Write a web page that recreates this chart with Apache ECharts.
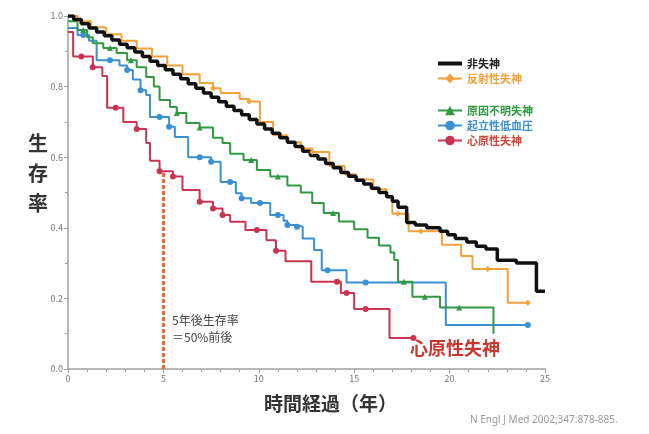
<!DOCTYPE html>
<html>
<head>
<meta charset="utf-8">
<script src="https://cdn.jsdelivr.net/npm/echarts@6/dist/echarts.min.js"></script>
<style>
  html, body { margin: 0; padding: 0; background: #fff; }
  #main { width: 649px; height: 434px; }
</style>
</head>
<body>
<div id="main"></div>
<script>
// [years, survival, censored]
var nonSyncope = [
  [0, 1.0, 0], [0.3, 0.99, 0], [0.7, 0.978, 0], [1.1, 0.966, 0], [1.5, 0.955, 0],
  [1.9, 0.944, 0], [2.3, 0.932, 0], [2.7, 0.92, 0], [3.1, 0.91, 0], [3.5, 0.898, 0],
  [3.9, 0.885, 0], [4.3, 0.872, 0], [4.7, 0.86, 0], [5.1, 0.848, 0], [5.5, 0.835, 0],
  [5.9, 0.822, 0], [6.3, 0.808, 0], [6.7, 0.795, 0], [7.1, 0.782, 0], [7.5, 0.77, 0],
  [7.9, 0.757, 0], [8.3, 0.744, 0], [8.7, 0.732, 0], [9.1, 0.72, 0], [9.5, 0.707, 0],
  [9.9, 0.694, 0], [10.3, 0.68, 0], [10.7, 0.668, 0], [11.1, 0.655, 0], [11.5, 0.642, 0],
  [11.9, 0.63, 0], [12.3, 0.617, 0], [12.7, 0.605, 0], [13.1, 0.595, 0], [13.5, 0.582, 0],
  [13.9, 0.57, 0], [14.3, 0.557, 0], [14.7, 0.546, 0], [15.1, 0.535, 0], [15.5, 0.524, 0],
  [15.9, 0.512, 0], [16.3, 0.5, 0], [16.7, 0.488, 0], [17.0, 0.475, 0], [17.3, 0.458, 0],
  [17.75, 0.415, 0], [18.2, 0.408, 0], [18.8, 0.4, 0], [19.5, 0.39, 0], [19.9, 0.38, 0],
  [20.3, 0.37, 0], [20.9, 0.36, 0], [21.4, 0.348, 0], [21.9, 0.34, 0], [22.5, 0.308, 0],
  [23.5, 0.3, 0], [24.55, 0.22, 0], [25.0, 0.22, 0]
];
var reflex = [
  [0, 1.0, 0], [0.5, 0.985, 0], [1.2, 0.968, 0], [2.0, 0.948, 0], [2.8, 0.93, 0],
  [3.6, 0.908, 0], [4.4, 0.885, 0], [5.2, 0.86, 0], [6.0, 0.835, 0], [6.9, 0.81, 0],
  [7.6, 0.795, 1], [8.0, 0.782, 0], [9.0, 0.765, 0], [9.5, 0.758, 1], [10.06, 0.7, 0],
  [10.75, 0.662, 0], [11.5, 0.642, 0], [12.2, 0.625, 0], [12.8, 0.615, 1], [13.7, 0.575, 0],
  [14.5, 0.552, 0], [15.1, 0.537, 0], [16.0, 0.509, 0], [16.7, 0.49, 0], [17.0, 0.44, 0],
  [17.3, 0.44, 1], [17.85, 0.39, 0], [18.5, 0.39, 1], [19.6, 0.352, 0], [20.6, 0.32, 0],
  [21.2, 0.283, 0], [22.0, 0.283, 1], [23.05, 0.188, 0], [24.1, 0.188, 1]
];
var unknown = [
  [0, 0.985, 0], [0.5, 0.96, 0], [0.8, 0.96, 1], [1.0, 0.94, 0], [1.3, 0.923, 0],
  [1.85, 0.909, 0], [2.2, 0.909, 1], [2.55, 0.895, 0], [3.1, 0.875, 0], [3.3, 0.875, 1],
  [3.6, 0.855, 0], [4.1, 0.827, 0], [4.5, 0.8, 0], [4.8, 0.762, 0], [5.35, 0.742, 0],
  [5.7, 0.725, 1], [6.2, 0.697, 0], [6.9, 0.684, 1], [7.6, 0.655, 0], [8.1, 0.64, 0],
  [8.5, 0.61, 0], [9.2, 0.592, 0], [9.6, 0.592, 1], [9.9, 0.564, 0], [10.6, 0.545, 0],
  [11.0, 0.545, 1], [11.5, 0.52, 0], [12.2, 0.5, 0], [12.8, 0.47, 0], [13.4, 0.442, 0],
  [13.9, 0.442, 1], [14.2, 0.418, 0], [15.0, 0.396, 0], [15.7, 0.372, 0], [16.3, 0.35, 0],
  [16.9, 0.33, 0], [17.1, 0.309, 0], [17.3, 0.247, 0], [17.6, 0.247, 1], [18.05, 0.205, 0],
  [18.7, 0.205, 1], [19.5, 0.174, 0], [20.5, 0.174, 1], [22.3, 0.1, 0]
];
var orthostatic = [
  [0, 0.966, 0], [0.5, 0.946, 0], [0.8, 0.946, 1], [1.1, 0.93, 0], [1.5, 0.875, 0],
  [2.2, 0.875, 1], [2.7, 0.86, 0], [3.1, 0.847, 1], [3.4, 0.82, 0], [3.8, 0.79, 1],
  [4.1, 0.776, 0], [4.3, 0.714, 0], [4.8, 0.714, 1], [5.3, 0.686, 1], [5.6, 0.657, 0],
  [6.3, 0.6, 0], [6.9, 0.6, 1], [7.5, 0.587, 1], [8.0, 0.53, 0], [8.5, 0.53, 1],
  [8.8, 0.498, 0], [9.1, 0.484, 1], [9.6, 0.47, 0], [10.06, 0.47, 1], [10.6, 0.436, 0],
  [11.0, 0.436, 1], [11.3, 0.42, 0], [11.5, 0.408, 1], [12.0, 0.403, 1], [12.3, 0.37, 0],
  [12.9, 0.337, 0], [13.3, 0.28, 0], [13.6, 0.28, 1], [14.6, 0.245, 0], [15.6, 0.245, 1],
  [19.8, 0.125, 0], [24.1, 0.125, 1]
];
var cardiac = [
  [0, 0.955, 0], [0.27, 0.885, 0], [0.7, 0.885, 1], [1.3, 0.855, 1], [1.8, 0.83, 0],
  [2.05, 0.74, 0], [2.5, 0.74, 1], [2.9, 0.7, 0], [3.6, 0.68, 1], [4.1, 0.64, 0],
  [4.3, 0.59, 0], [4.8, 0.56, 1], [5.5, 0.545, 1], [6.0, 0.507, 0], [6.9, 0.474, 1],
  [7.6, 0.455, 1], [8.1, 0.436, 1], [8.5, 0.417, 0], [9.3, 0.394, 0], [9.9, 0.394, 1],
  [10.4, 0.365, 0], [10.9, 0.335, 1], [11.4, 0.305, 0], [12.75, 0.247, 0], [14.1, 0.247, 1],
  [14.3, 0.215, 0], [14.6, 0.215, 1], [15.0, 0.17, 0], [15.6, 0.17, 1], [16.85, 0.088, 0],
  [18.1, 0.088, 1]
];

var names = ['非失神', '反射性失神', '原因不明失神', '起立性低血圧', '心原性失神'];
var colors = ['#111111', '#f3a13a', '#2f9a42', '#3a90d4', '#c93452'];
var textColors = ['#222222', '#f3a13a', '#2f9a42', '#3a90d4', '#d0463c'];

var chartDom = document.getElementById('main');
var myChart = echarts.init(chartDom);
var option;

function toItems(arr) {
    return arr.map(function (p) {
        return { value: [p[0], p[1]], symbol: p[2] ? undefined : 'none' };
    });
}

function km(i, data, symbol, width) {
    return {
        name: names[i],
        type: 'line',
        step: 'end',
        data: toItems(data),
        symbol: symbol,
        symbolSize: 6,
        color: colors[i],
        lineStyle: { color: colors[i], width: width },
        itemStyle: { color: colors[i] },
        animation: false
    };
}

var axisStyle = { lineStyle: { color: '#a0a0a0', width: 1.5 } };

var cardiacSeries = km(4, cardiac, 'circle', 2);
cardiacSeries.markLine = {
    silent: true,
    symbol: 'none',
    label: { show: false },
    lineStyle: { color: '#ee6a3a', type: [4, 2], width: 3 },
    data: [[{ coord: [5, 0] }, { coord: [5, 0.555] }]]
};

option = {
    backgroundColor: '#fff',
    textStyle: { fontFamily: 'Noto Sans CJK JP' },
    grid: { left: 68, right: 104, top: 16, bottom: 65 },
    legend: [
        {
            orient: 'vertical', left: 432, top: 53, itemGap: 4,
            itemWidth: 24, itemHeight: 12,
            textStyle: { fontSize: 11, fontWeight: 'bold' },
            data: [
                { name: names[0], icon: 'path://M0,0H24V4H0Z', textStyle: { color: textColors[0] } },
                { name: names[1], textStyle: { color: textColors[1] } }
            ]
        },
        {
            orient: 'vertical', left: 432, top: 100, itemGap: 4,
            itemWidth: 24, itemHeight: 12,
            textStyle: { fontSize: 11, fontWeight: 'bold' },
            data: [
                { name: names[2], textStyle: { color: textColors[2] } },
                { name: names[3], textStyle: { color: textColors[3] } },
                { name: names[4], textStyle: { color: textColors[4] } }
            ]
        }
    ],
    xAxis: {
        type: 'value', min: 0, max: 25, interval: 5,
        axisLine: axisStyle,
        axisTick: { length: 4, lineStyle: { color: '#a0a0a0' } },
        minorTick: { show: true, splitNumber: 5, length: 3, lineStyle: { color: '#a0a0a0' } },
        splitLine: { show: false },
        axisLabel: { fontSize: 9, color: '#777', margin: 5 }
    },
    yAxis: {
        type: 'value', min: 0, max: 1, interval: 0.2,
        axisLine: { show: true, lineStyle: { color: '#a0a0a0', width: 1.5 } },
        axisTick: { show: true, length: 4, lineStyle: { color: '#a0a0a0' } },
        minorTick: { show: true, splitNumber: 2, length: 3, lineStyle: { color: '#a0a0a0' } },
        splitLine: { show: false },
        axisLabel: {
            fontSize: 9, color: '#777', margin: 5,
            formatter: function (v) { return v.toFixed(1); }
        }
    },
    graphic: [
        {
            type: 'text', left: 28, top: 128,
            style: { text: '生\n存\n率', fontSize: 20, lineHeight: 30, fontWeight: 'bold', fill: '#333', fontFamily: 'Noto Sans CJK JP' }
        },
        {
            type: 'text', left: 264, top: 394,
            style: { text: '時間経過（年）', fontSize: 19, fontWeight: 'bold', fill: '#333', fontFamily: 'Noto Sans CJK JP' }
        },
        {
            type: 'text', left: 172, top: 312,
            style: { text: '5年後生存率\n＝50%前後', fontSize: 12, lineHeight: 17, fill: '#444', fontFamily: 'Noto Sans CJK JP' }
        },
        {
            type: 'text', left: 410, top: 339,
            style: { text: '心原性失神', fontSize: 18, fontWeight: 'bold', fill: '#c8372d', fontFamily: 'Noto Sans CJK JP' }
        },
        {
            type: 'text', left: 470, top: 415,
            style: { text: 'N Engl J Med 2002;347:878-885.', fontSize: 10, fill: '#999', fontFamily: 'Noto Sans' }
        }
    ],
    series: [
        cardiacSeries,
        km(3, orthostatic, 'circle', 2),
        km(2, unknown, 'triangle', 2),
        km(1, reflex, 'diamond', 2),
        km(0, nonSyncope, 'none', 3.5)
    ]
};

option && myChart.setOption(option);
</script>
</body>
</html>
